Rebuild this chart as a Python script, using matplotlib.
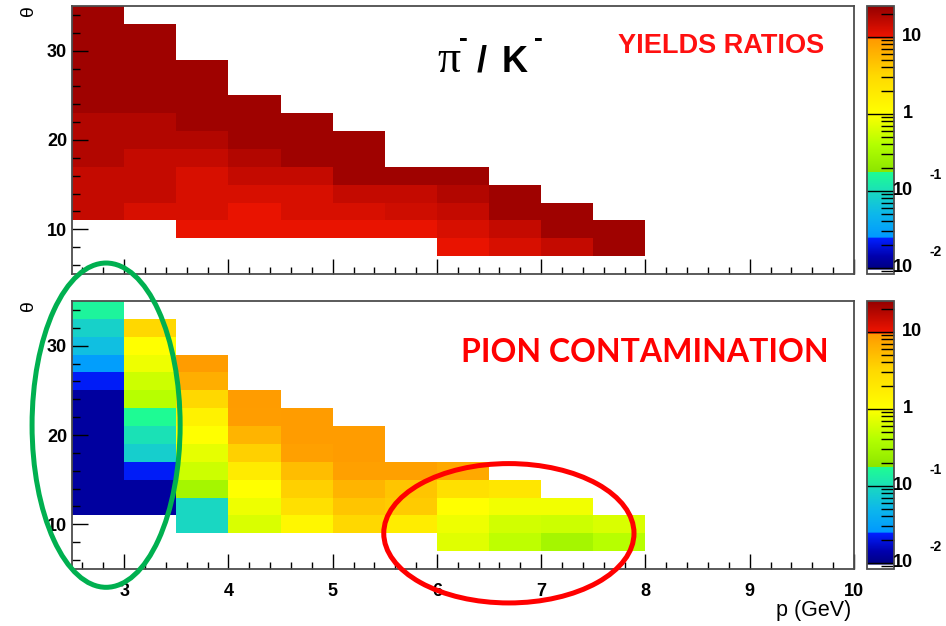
import numpy as np
import matplotlib
matplotlib.use("Agg")
import matplotlib.pyplot as plt
from matplotlib.colors import LinearSegmentedColormap, LogNorm
from matplotlib.patches import Ellipse
from matplotlib.ticker import MultipleLocator, LogLocator, NullFormatter
import matplotlib.transforms as mtransforms

# binning of both histograms
p_edges = np.arange(2.5, 10.01, 0.5)      # p (GeV)
theta_edges = np.arange(5, 35.01, 2)      # theta (deg)

n = None
# pi-/K- yields ratio; rows: theta bins 33-35 (top) down to 5-7,
# columns: p bins 2.5-3 ... 7.5-8 (bins above 8 GeV are empty)
ratio = [
    [22.5, n, n, n, n, n, n, n, n, n, n],
    [22.5, 22.5, n, n, n, n, n, n, n, n, n],
    [22.5, 22.5, n, n, n, n, n, n, n, n, n],
    [22.5, 22.5, 22.5, n, n, n, n, n, n, n, n],
    [22.5, 22.5, 22.5, n, n, n, n, n, n, n, n],
    [22.5, 22.5, 22.5, 22.5, n, n, n, n, n, n, n],
    [18.5, 18.5, 22.5, 22.5, 22.5, n, n, n, n, n, n],
    [18.5, 18.5, 18.5, 22.5, 22.5, 22.5, n, n, n, n, n],
    [18.5, 15.3, 15.3, 18.5, 22.5, 22.5, n, n, n, n, n],
    [15.3, 15.3, 12.6, 15.3, 15.3, 22.5, 22.5, 22.5, n, n, n],
    [15.3, 15.3, 12.6, 12.6, 12.6, 15.3, 15.3, 18.5, 22.5, n, n],
    [15.3, 12.6, 12.6, 10.4, 12.6, 12.6, 13.8, 15.3, 22.5, 22.5, n],
    [n, n, 10.4, 10.4, 10.4, 10.4, 10.4, 12.6, 15.3, 22.5, 22.5],
    [n, n, n, n, n, n, n, 10.4, 12.6, 15.3, 22.5],
    [n, n, n, n, n, n, n, n, n, n, n],
]

# pion contamination, same layout
contamination = [
    [0.15, n, n, n, n, n, n, n, n, n, n],
    [0.085, 3.2, n, n, n, n, n, n, n, n, n],
    [0.058, 1.0, n, n, n, n, n, n, n, n, n],
    [0.028, 0.81, 9.0, n, n, n, n, n, n, n, n],
    [0.023, 0.54, 6.5, n, n, n, n, n, n, n, n],
    [0.0125, 0.42, 3.2, 9.0, n, n, n, n, n, n, n],
    [0.0125, 0.17, 1.47, 8.8, 9.0, n, n, n, n, n, n],
    [0.0125, 0.102, 1.0, 5.9, 9.0, 9.0, n, n, n, n, n],
    [0.0125, 0.08, 0.74, 3.65, 8.3, 9.0, n, n, n, n, n],
    [0.0125, 0.023, 0.54, 1.85, 5.1, 8.3, 8.3, 7.2, n, n, n],
    [0.0125, 0.0125, 0.30, 1.0, 3.65, 5.9, 4.4, 2.5, 2.15, n, n],
    [0.0125, 0.0125, 0.095, 0.81, 2.5, 4.4, 4.0, 1.0, 0.86, 0.86, n],
    [n, n, 0.095, 0.63, 1.26, 3.16, 1.7, 0.81, 0.575, 0.54, 0.63],
    [n, n, n, n, n, n, n, 0.69, 0.46, 0.30, 0.42],
    [n, n, n, n, n, n, n, n, n, n, n],
]

zmin, zmax = 10 ** -2.08, 10 ** 1.4

# ROOT-like palette, anchors in log10(z)
palette = [
    (-2.08, (1, 1, 1)), (-2.025, (1, 1, 1)),
    (-2.02, (0, 0, 0.5)), (-1.85, (0, 0, 0.68)), (-1.62, (0, 0.12, 1)),
    (-1.6, (0, 0.6, 1)), (-1.3, (0.05, 0.72, 0.92)), (-1.005, (0.1, 0.85, 0.75)),
    (-1.0, (0.1, 0.88, 0.72)), (-0.755, (0.12, 0.99, 0.57)),
    (-0.75, (0.55, 0.9, 0)), (-0.4, (0.7, 1, 0)), (0.0, (1, 1, 0)),
    (0.5, (1, 0.85, 0)), (0.975, (1, 0.6, 0)),
    (0.98, (0.95, 0.08, 0)), (1.4, (0.58, 0, 0)),
]
lo, hi = np.log10(zmin), np.log10(zmax)
cmap = LinearSegmentedColormap.from_list(
    "root", [((l - lo) / (hi - lo), c) for l, c in palette], N=1024)
norm = LogNorm(vmin=zmin, vmax=zmax)

W, H = 946, 626


def fx(x):
    return x / W


def fy(y):
    return 1 - y / H


def to_grid(rows):
    z = np.array([[np.nan if v is None else v for v in r] for r in rows], dtype=float)
    z = z[::-1]
    pad = np.full((z.shape[0], len(p_edges) - 1 - z.shape[1]), np.nan)
    return np.ma.masked_invalid(np.hstack([z, pad]))


fig = plt.figure(figsize=(W / 100, H / 100), dpi=100)
plt.rcParams['font.family'] = ['Liberation Sans', 'DejaVu Sans']

frame_col = '0.3'
tick_font = dict(fontsize=13, fontweight='bold')


def panel(top, rows, xlabels):
    ax = fig.add_axes([fx(72), fy(top + 268), 782 / W, 268 / H])
    mesh = ax.pcolormesh(p_edges, theta_edges, to_grid(rows), cmap=cmap, norm=norm)
    ax.set_xlim(2.5, 10)
    ax.set_ylim(5, 35)
    ax.xaxis.set_major_locator(MultipleLocator(1))
    ax.xaxis.set_minor_locator(MultipleLocator(0.2))
    ax.yaxis.set_major_locator(MultipleLocator(10))
    ax.yaxis.set_minor_locator(MultipleLocator(2))
    ax.tick_params(which='both', direction='in', top=False, right=False, width=1, color='k')
    ax.tick_params(axis='x', which='major', length=11, pad=10)
    ax.tick_params(axis='x', which='minor', length=5)
    ax.tick_params(axis='y', which='major', length=11.5, pad=3.5)
    ax.tick_params(axis='y', which='minor', length=5.5)
    for s in ax.spines.values():
        s.set_color(frame_col)
        s.set_linewidth(1.3)
    for lab in ax.get_yticklabels():
        lab.set(**tick_font)
    if xlabels:
        for lab in ax.get_xticklabels():
            lab.set(**tick_font)
    else:
        ax.set_xticklabels([])

    cax = fig.add_axes([fx(867), fy(top + 268), 27 / W, 268 / H])
    cb = fig.colorbar(mesh, cax=cax)
    cb.set_ticks([0.01, 0.1, 1, 10])
    cax.yaxis.set_minor_locator(LogLocator(base=10, subs=np.arange(2, 10)))
    cax.yaxis.set_minor_formatter(NullFormatter())
    cax.set_yticklabels([])
    cax.tick_params(which='major', direction='in', length=19.5, width=1, color='k')
    cax.tick_params(which='minor', direction='in', length=9.5, width=1, color='k')
    cb.outline.set_edgecolor(frame_col)
    cb.outline.set_linewidth(1.3)
    tr = mtransforms.blended_transform_factory(cax.transAxes, cax.transData)
    cax.text(1.30, 10, '10', transform=tr, ha='left', va='center', **tick_font)
    cax.text(1.33, 1, '1', transform=tr, ha='left', va='center', **tick_font)
    for v, e in [(0.1, '-1'), (0.01, '-2')]:
        cax.text(0.96, v, '10', transform=tr, ha='left', va='center', **tick_font)
        cax.text(2.33, v * 1.61, e, transform=tr, ha='left', va='center',
                 fontsize=10, fontweight='bold')

    fig.text(fx(29), fy(top + 5), 'θ', rotation=90, ha='center', va='center', fontsize=14)
    return ax


ax1 = panel(6, ratio, False)
ax2 = panel(301, contamination, True)

# titles on the panels
fig.text(fx(437), fy(72), 'π', fontsize=33, family='Liberation Serif', ha='left', va='baseline')
fig.text(fx(459), fy(46), '-', fontsize=19, fontweight='bold', ha='left', va='baseline')
fig.text(fx(477), fy(72), '/', fontsize=26, fontweight='bold', ha='left', va='baseline')
fig.text(fx(502), fy(72), 'K', fontsize=26, fontweight='bold', ha='left', va='baseline')
fig.text(fx(534), fy(46), '-', fontsize=19, fontweight='bold', ha='left', va='baseline')
fig.text(fx(824), fy(53), 'YIELDS RATIOS', fontsize=19.5, fontweight='bold',
         color='#ff1010', ha='right', va='baseline')
fig.text(fx(829), fy(362), 'PION CONTAMINATION', fontsize=23, fontweight='bold',
         family='Lato', color='#ff0000', ha='right', va='baseline')
fig.text(fx(851), fy(616), 'p (GeV)', fontsize=15.5, ha='right', va='baseline')

# highlighted regions
ax2.add_patch(Ellipse((2.827, 21.1), 1.42, 36.3, fill=False, edgecolor='#00b050',
                      linewidth=3.6, clip_on=False, zorder=10))
ax2.add_patch(Ellipse((6.69, 9.0), 2.40, 15.6, fill=False, edgecolor='#ff0000',
                      linewidth=3.6, clip_on=False, zorder=10))

fig.savefig('out.png', dpi=100)
